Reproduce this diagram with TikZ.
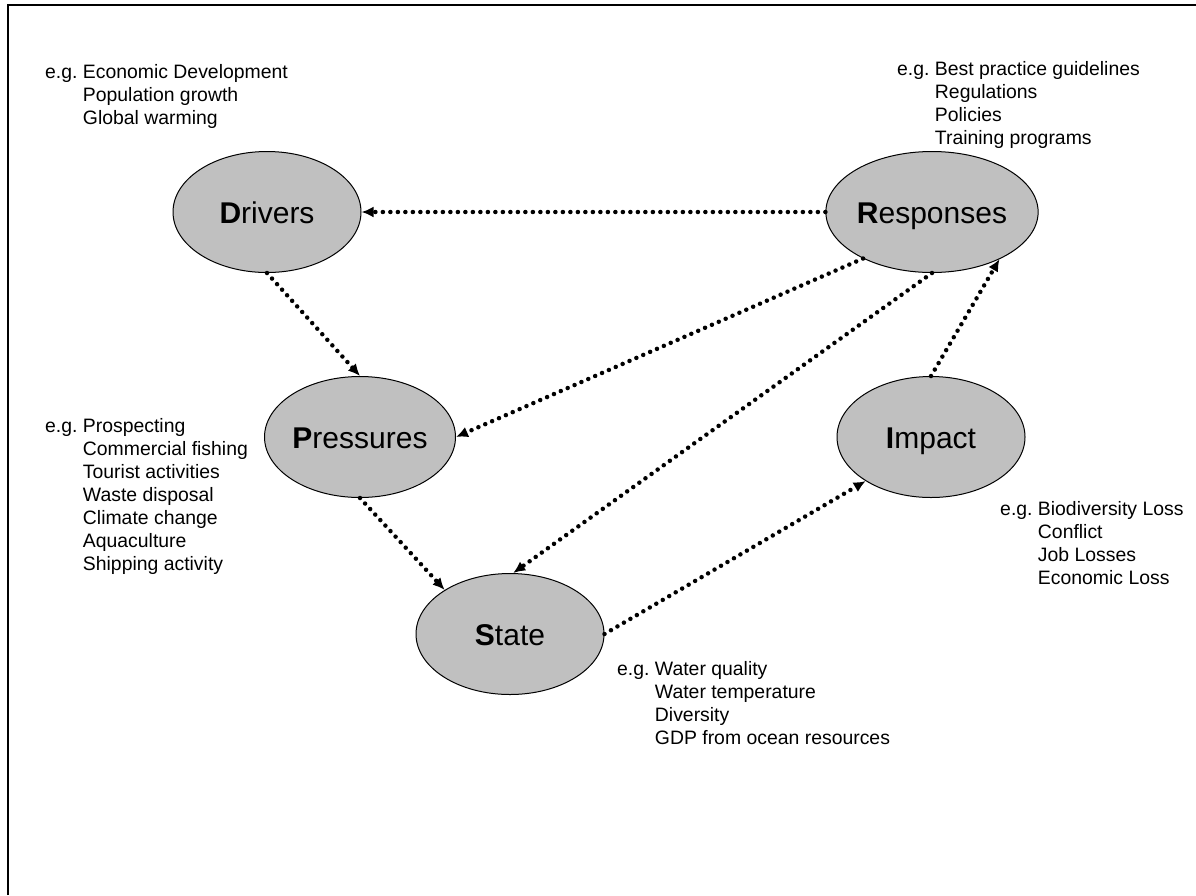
\documentclass[tikz,border=0pt]{standalone}
\usepackage{fontspec}
\setmainfont{Liberation Sans}
\usepackage{tikz}
\usetikzlibrary{shapes.geometric,arrows.meta}
\definecolor{dpsirgray}{RGB}{192,192,192}
\tikzset{
  dpsir/.style={ellipse, draw, line width=1pt, fill=dpsirgray, minimum width=188pt, minimum height=121pt,
    inner sep=0pt, font=\fontsize{30}{36}\selectfont, text height=22pt, text depth=0pt},
  link/.style={line width=4.5pt, line cap=round, dash pattern=on 0pt off 7.5pt, -{Latex[length=12pt,width=11pt]}},
  eglist/.style={anchor=base west, inner sep=0pt, font=\fontsize{19.4}{23}\selectfont}
}

\begin{document}
\begin{tikzpicture}[x=1pt, y=-1pt]
        \useasboundingbox (0,0) rectangle (1196,895);
        \draw[line width=2pt] (8,895) -- (8,5) -- (1196,5);
        \node[dpsir] (drivers) at (267,212) {\textbf{D}rivers};
        \node[dpsir] (responses) at (932,212) {\textbf{R}esponses};
        \node[dpsir] (pressures) at (360,437) {\textbf{P}ressures};
        \node[dpsir] (impact) at (931,437) {\textbf{I}mpact};
        \node[dpsir] (state) at (510,634) {\textbf{S}tate};
        \draw[link] (responses.west) -- (drivers.east);
        \draw[link] (drivers.south) -- (pressures.north);
        \draw[link] (responses.214) -- (pressures.east);
        \draw[link] (responses.south) -- (state.87);
        \draw[link] (pressures.south) -- (state.146);
        \draw[link] (state.east) -- (impact.214);
        \draw[link] (impact.north) -- (responses.325);
        \node[eglist] (drivers-eg) at (45,78) {\begin{tabular}[t]{@{}l@{\ }l@{}}
          e.g. & Economic Development\\ & Population growth\\ & Global warming\end{tabular}};
        \node[eglist] (responses-eg) at (897,75) {\begin{tabular}[t]{@{}l@{\ }l@{}}
          e.g. & Best practice guidelines\\ & Regulations\\ & Policies\\ & Training programs\end{tabular}};
        \node[eglist] (pressures-eg) at (45,432) {\begin{tabular}[t]{@{}l@{\ }l@{}}
          e.g. & Prospecting\\ & Commercial fishing\\ & Tourist activities\\ & Waste disposal\\
          & Climate change\\ & Aquaculture\\ & Shipping activity\end{tabular}};
        \node[eglist] (impact-eg) at (1000,515) {\begin{tabular}[t]{@{}l@{\ }l@{}}
          e.g. & Biodiversity Loss\\ & Conflict\\ & Job Losses\\ & Economic Loss\end{tabular}};
        \node[eglist] (state-eg) at (617,675) {\begin{tabular}[t]{@{}l@{\ }l@{}}
          e.g. & Water quality\\ & Water temperature\\ & Diversity\\ & GDP from ocean resources\end{tabular}};
      \end{tikzpicture}
\end{document}
